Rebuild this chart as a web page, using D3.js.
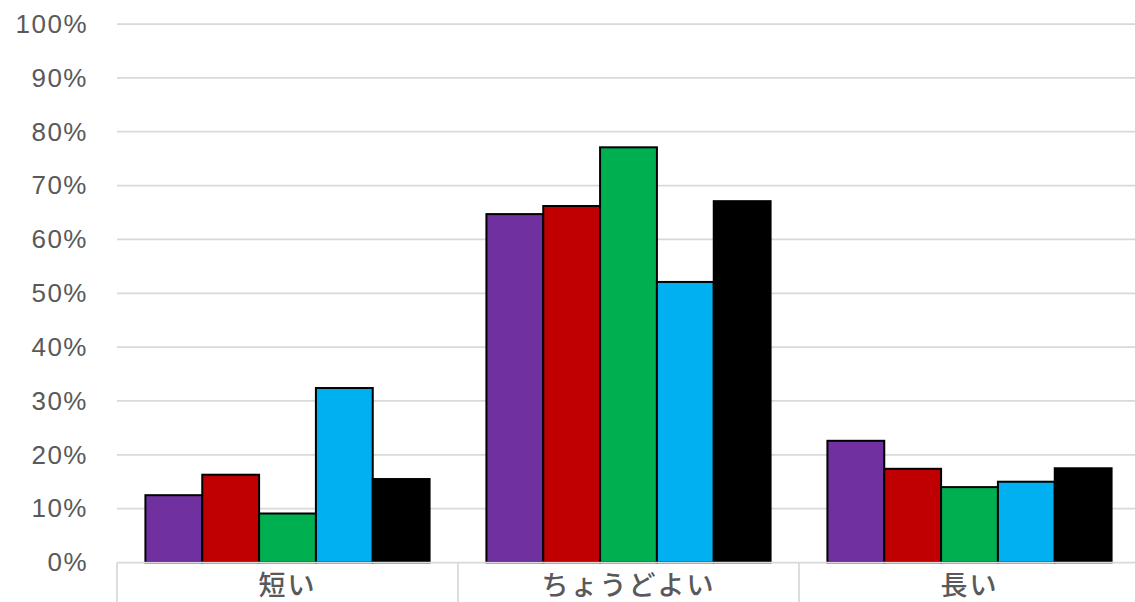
<!DOCTYPE html>
<html lang="ja">
<head>
<meta charset="utf-8">
<script src="https://cdn.jsdelivr.net/npm/d3@7"></script>
<style>
  html, body { margin: 0; padding: 0; background: #fff; }
  svg { display: block; }
</style>
</head>
<body>
<svg id="chart" width="1135" height="602"></svg>
<script>
// Categories along the x axis
const categories = ["短い", "ちょうどよい", "長い"];

// Five series, one value (share) per category
const seriesNames = ["系列1", "系列2", "系列3", "系列4", "系列5"];
const seriesA = [0.125, 0.647, 0.226];
const seriesB = [0.163, 0.662, 0.174];
const seriesC = [0.091, 0.771, 0.140];
const seriesD = [0.324, 0.521, 0.150];
const seriesE = [0.155, 0.671, 0.175];
const seriesColors = ["#7030A0", "#C00000", "#00B050", "#00B0F0", "#000000"];

// Y axis ticks
const yTicks = [0, 0.1, 0.2, 0.3, 0.4, 0.5, 0.6, 0.7, 0.8, 0.9, 1.0];

const seriesValues = [seriesA, seriesB, seriesC, seriesD, seriesE];

const svg = d3.select("#chart");
const plotLeft = 117, plotRight = 1140, plotTop = 24, plotBottom = 562.5;

const x = d3.scaleBand().domain(categories).range([plotLeft, plotRight]).paddingInner(0).paddingOuter(0);
const xInner = d3.scaleBand().domain(seriesNames).range([0, x.bandwidth()]).paddingInner(0).paddingOuter(0.5);
const y = d3.scaleLinear().domain([0, 1]).range([plotBottom, plotTop]);

const gridColor = "#d9d9d9";
const textColor = "#595959";

// Horizontal gridlines
svg.append("g")
  .selectAll("line")
  .data(yTicks.filter(d => d > 0))
  .join("line")
  .attr("x1", plotLeft).attr("x2", 1135)
  .attr("y1", d => y(d)).attr("y2", d => y(d))
  .attr("stroke", gridColor).attr("stroke-width", 1.75);

// Y axis labels
const yAxis = d3.axisLeft(y).tickValues(yTicks).tickFormat(d3.format(".0%")).tickSize(0).tickPadding(0);
const yG = svg.append("g").attr("transform", "translate(88,0)").call(yAxis);
yG.select(".domain").remove();
yG.selectAll("text")
  .attr("fill", textColor)
  .style("font-family", "'Liberation Sans', Arial, sans-serif")
  .style("font-size", "26px")
  .style("letter-spacing", "1.5px");

// Bars
const groups = svg.append("g")
  .selectAll("g")
  .data(categories)
  .join("g")
  .attr("transform", d => `translate(${x(d)},0)`);

groups.selectAll("rect")
  .data((c, ci) => seriesNames.map((s, si) => ({ s, si, v: seriesValues[si][ci] })))
  .join("rect")
  .attr("x", d => xInner(d.s))
  .attr("width", xInner.bandwidth())
  .attr("y", d => y(d.v))
  .attr("height", d => y(0) - y(d.v))
  .attr("fill", d => seriesColors[d.si])
  .attr("stroke", "#000")
  .attr("stroke-width", 2);

// X axis line and category separators
const xAxisG = svg.append("g");
xAxisG.append("line")
  .attr("x1", plotLeft).attr("x2", 1135)
  .attr("y1", plotBottom).attr("y2", plotBottom)
  .attr("stroke", gridColor).attr("stroke-width", 1.75);
xAxisG.selectAll("line.sep")
  .data(categories)
  .join("line")
  .attr("class", "sep")
  .attr("x1", d => x(d)).attr("x2", d => x(d))
  .attr("y1", plotBottom).attr("y2", 602)
  .attr("stroke", gridColor).attr("stroke-width", 1.75);

// Category labels
xAxisG.selectAll("text")
  .data(categories)
  .join("text")
  .attr("x", d => x(d) + x.bandwidth() / 2)
  .attr("y", 583)
  .attr("text-anchor", "middle")
  .attr("dominant-baseline", "central")
  .attr("fill", textColor)
  .style("font-family", "'Noto Sans CJK JP', sans-serif")
  .style("font-size", "27px")
  .style("font-weight", "500")
  .style("letter-spacing", "2px")
  .text(d => d);
</script>
</body>
</html>
